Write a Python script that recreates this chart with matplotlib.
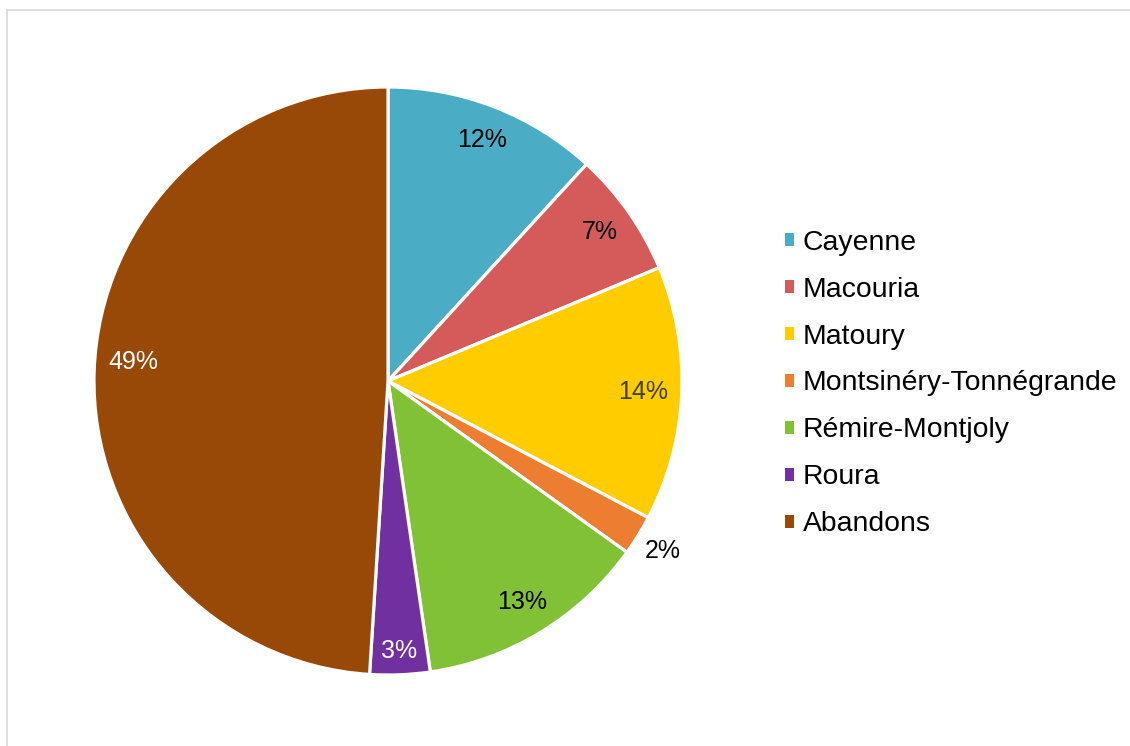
import matplotlib.pyplot as plt
from matplotlib.patches import Patch
from matplotlib.lines import Line2D
import numpy as np

# ==============================================================
# DONNÉES
# ==============================================================
communes = ["Cayenne", "Macouria", "Matoury", "Montsinéry-Tonnégrande",
            "Rémire-Montjoly", "Roura", "Abandons"]
parts = [11.8, 6.9, 14.0, 2.2, 12.8, 3.3, 49.0]
etiquettes = ["12%", "7%", "14%", "2%", "13%", "3%", "49%"]

couleurs = ["#4BACC6", "#D55B5B", "#FFCC00", "#ED7D31",
            "#80C136", "#7030A0", "#984807"]
couleurs_texte = ["black", "black", "#404040", "black",
                  "black", "white", "white"]
distances = [0.88, 0.88, 0.87, 1.10, 0.88, 0.92, 0.87]
decalages = [0, 0, 0, 0, 0, 0, -2.5]  # degrés

plt.rcParams['font.family'] = ['Liberation Sans', 'DejaVu Sans']

# ==============================================================
# FIGURE
# ==============================================================
W, H = 1130, 746
fig = plt.figure(figsize=(W / 100, H / 100), dpi=100)

cx, cy, r = 388, 381, 294
ax = fig.add_axes([(cx - r) / W, (H - cy - r) / H, 2 * r / W, 2 * r / H])

wedges, _ = ax.pie(parts, colors=couleurs, startangle=90, counterclock=False,
                   radius=1, wedgeprops=dict(edgecolor="white", linewidth=2.3))

for w, txt, col, d, dec in zip(wedges, etiquettes, couleurs_texte, distances, decalages):
    ang = np.deg2rad((w.theta1 + w.theta2) / 2 + dec)
    ax.text(d * np.cos(ang), d * np.sin(ang), txt, ha="center", va="center",
            fontsize=18, color=col)

ax.set_xlim(-1, 1)
ax.set_ylim(-1, 1)
ax.set_aspect("equal")
ax.axis("off")

# légende
poignees = [Patch(facecolor=c, edgecolor="none") for c in couleurs]
fig.legend(poignees, communes, loc="center left",
           bbox_to_anchor=(785 / W, (H - 383.5) / H),
           frameon=False, fontsize=20.4, handlelength=0.32, handleheight=0.32,
           handletextpad=0.3, labelspacing=0.74, borderpad=0, borderaxespad=0)

# cadre gris (haut et gauche)
fig.add_artist(Line2D([6.5 / W, 1], [1 - 9.5 / H, 1 - 9.5 / H],
                      transform=fig.transFigure, color="#D9D9D9", lw=1.2))
fig.add_artist(Line2D([6.5 / W, 6.5 / W], [0, 1 - 9.5 / H],
                      transform=fig.transFigure, color="#D9D9D9", lw=1.2))

fig.savefig("out.png", dpi=100)
